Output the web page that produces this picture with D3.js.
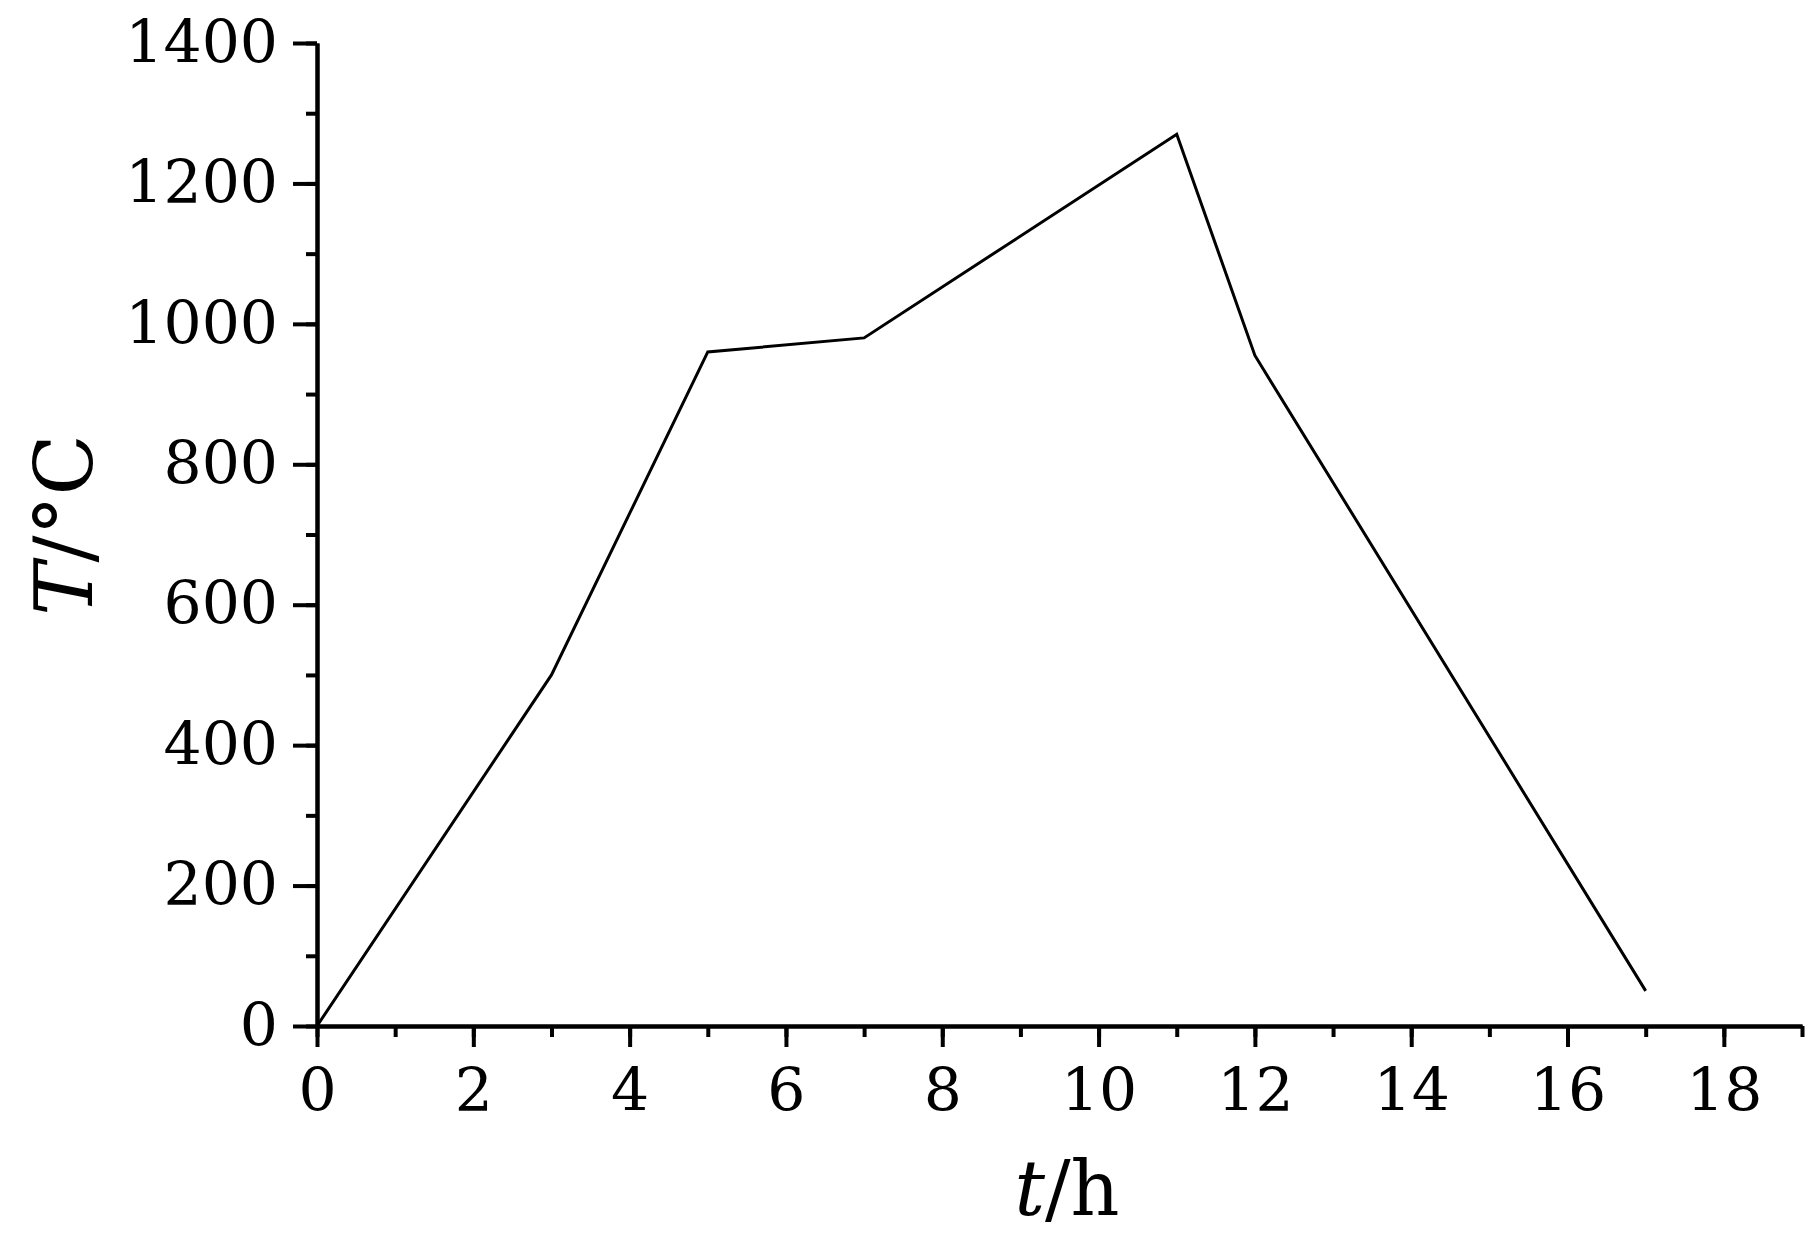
<!DOCTYPE html>
<html><head><meta charset="utf-8">
<script src="https://cdn.jsdelivr.net/npm/d3@7"></script>
<style>body{margin:0;background:#fff}svg{display:block}</style>
</head><body>
<script>
const timeH = [0, 3, 4, 5, 7, 11, 12, 17];
const tempC = [0, 500, 730, 960, 980, 1270, 955, 50];
const xTicks = [0, 2, 4, 6, 8, 10, 12, 14, 16, 18];
const yTicks = [0, 200, 400, 600, 800, 1000, 1200, 1400];

const W = 1819, H = 1240;
const x0 = 317, x1 = 1802, y0 = 1026, y1 = 43;
const svg = d3.select("body").append("svg").attr("width", W).attr("height", H);
const x = d3.scaleLinear().domain([0, 19]).range([x0, x1]);
const y = d3.scaleLinear().domain([0, 1400]).range([y0, y1]);
const font = "'DejaVu Serif', serif";

const xAxisMinor = d3.axisBottom(x).tickValues(d3.range(0, 20, 1)).tickSize(11).tickSizeOuter(0).tickFormat("");
const yAxisMinor = d3.axisLeft(y).tickValues(d3.range(0, 1401, 100)).tickSize(11).tickSizeOuter(0).tickFormat("");
const xAxis = d3.axisBottom(x).tickValues(xTicks).tickSize(21).tickPadding(21).tickSizeOuter(0).tickFormat(d3.format("d"));
const yAxis = d3.axisLeft(y).tickValues(yTicks).tickSize(24).tickPadding(15).tickSizeOuter(0).tickFormat(d3.format("d"));

function style(g){
  g.select(".domain").attr("stroke", "#000").attr("stroke-width", 4);
  g.selectAll(".tick line").attr("stroke", "#000").attr("stroke-width", 4);
  g.selectAll("text").attr("font-family", font).attr("font-size", 60).attr("fill", "#000");
}
svg.append("g").attr("transform", `translate(0,${y0})`).call(xAxisMinor).call(style);
svg.append("g").attr("transform", `translate(${x0},0)`).call(yAxisMinor).call(style);
svg.append("g").attr("transform", `translate(0,${y0})`).call(xAxis).call(style);
svg.append("g").attr("transform", `translate(${x0},0)`).call(yAxis).call(style);

const line = d3.line().x((d,i)=>x(timeH[i])).y((d,i)=>y(tempC[i]));
svg.append("path").datum(tempC).attr("d", line).attr("fill", "none")
  .attr("stroke", "#000").attr("stroke-width", 3).attr("stroke-linejoin", "miter");

const xt = svg.append("text").attr("x", 1067).attr("y", 1215).attr("text-anchor", "middle")
  .attr("font-family", font).attr("font-size", 76).attr("fill", "#000");
xt.append("tspan").attr("font-style", "italic").text("t");
xt.append("tspan").text("/h");

const yt = svg.append("text").attr("transform", "translate(92,525) rotate(-90)").attr("text-anchor", "middle")
  .attr("font-family", font).attr("font-size", 80).attr("fill", "#000");
yt.append("tspan").attr("font-style", "italic").text("T");
yt.append("tspan").text("/°C");
</script>
</body></html>
